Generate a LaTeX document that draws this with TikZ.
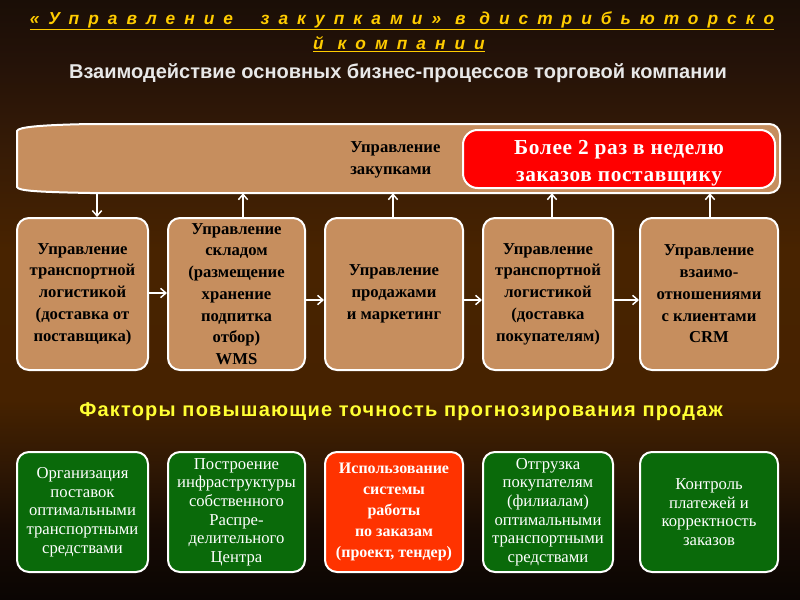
\documentclass[tikz,border=0pt]{standalone}
\usepackage{fontspec}
\setmainfont{Liberation Serif}
\newfontfamily\sansfont{Liberation Sans}
\newfontfamily\headfont[LetterSpace=6]{Liberation Sans}
\newfontfamily\titlefont[LetterSpace=52]{Liberation Sans}
\newfontfamily\serifls[LetterSpace=3]{Liberation Serif}
\usetikzlibrary{arrows.meta}
\definecolor{bg0}{HTML}{1A0E06}
\definecolor{bg1}{HTML}{241208}
\definecolor{bg2}{HTML}{361B06}
\definecolor{bg3}{HTML}{482300}
\definecolor{bg4}{HTML}{462200}
\definecolor{bg5}{HTML}{2E1704}
\definecolor{bg6}{HTML}{170B04}
\definecolor{bg7}{HTML}{0A0503}
\definecolor{tanfill}{HTML}{C68E5E}
\definecolor{greenfill}{HTML}{0A6A0A}
\definecolor{orangefill}{HTML}{FF3300}
\definecolor{titlegold}{HTML}{FFCC00}
\definecolor{headyellow}{HTML}{FFFF33}
\definecolor{subgrey}{HTML}{E8E8E8}
\pgfdeclareverticalshading{bgshade}{100bp}{color(0bp)=(bg7); color(25bp)=(bg7); color(30.8bp)=(bg6); color(35.8bp)=(bg5); color(41.7bp)=(bg4); color(54.2bp)=(bg3); color(62.5bp)=(bg2); color(70bp)=(bg1); color(75bp)=(bg0); color(100bp)=(bg0)}
\tikzset{
  procbox/.style={draw=white, line width=1.5pt, fill=tanfill, rounded corners=9pt,
    minimum height=114pt, inner sep=0pt, align=center, text=black,
    font=\bfseries\fontsize{12.5}{16.3}\selectfont},
  factbox/.style={draw=white, line width=1.5pt, fill=greenfill, rounded corners=9pt,
    minimum height=90pt, inner sep=0pt, align=center, text=white,
    font=\fontsize{12.5}{14}\selectfont},
  factred/.style={factbox, fill=orangefill, font=\bfseries\fontsize{12}{15.8}\selectfont},
  titletext/.style={text=titlegold, inner sep=0pt, font=\titlefont\bfseries\itshape\fontsize{13}{15}\selectfont},
  wline/.style={draw=white, line width=1.1pt, -{Straight Barb[length=4pt,width=7pt]}},
}
\begin{document}
\begin{tikzpicture}[x=0.75pt,y=-0.75pt]
\useasboundingbox (0,0) rectangle (800,600);
\shade[shading=bgshade] (0,0) rectangle (800,600);

% titles
\node[titletext] (t1) at (402,21)
  {\underline{«Управление\ \ закупками» в дистрибьюторско}};
\node[titletext] (t2) at (399,44)
  {\underline{й\ компании}};
\node[text=subgrey, font=\sansfont\bfseries\fontsize{15}{17}\selectfont] (sub) at (398,73)
  {Взаимодействие основных бизнес-процессов торговой компании};

% top purchasing band
\path[draw=white, line width=1.5pt, fill=tanfill]
  (90,124) [rounded corners=8pt] -- (780,124) -- (780,193) [sharp corners] -- (90,193)
  .. controls (40,192) and (18,191) .. (17,187) -- (17,131)
  .. controls (18,127) and (40,125) .. (90,124) -- cycle;
\node[minimum width=574.5pt, minimum height=51.75pt, inner sep=0pt] (top) at (398.5,158.5) {};
\node[anchor=west, align=left, inner sep=0pt, font=\bfseries\fontsize{12.5}{16.5}\selectfont] (purch) at (350,160)
  {Управление\\закупками};
\node[draw=white, line width=1.5pt, fill=red, rounded corners=11pt, minimum width=234pt, minimum height=43.5pt,
  inner sep=0pt, text=white, font=\serifls\bfseries\fontsize{16}{20.3}\selectfont] (freq) at (619,159)
  {\raisebox{-7pt}[0pt][0pt]{\begin{tabular}{@{}c@{}}Более 2 раз в неделю\\заказов поставщику\end{tabular}}};

% process boxes
\node[procbox, minimum width=98.25pt] (p1) at (82.5,294)
  {Управление\\транспортной\\логистикой\\(доставка от\\поставщика)};
\node[procbox, minimum width=102.75pt] (p2) at (236.5,294)
  {Управление\\складом\\(размещение\\хранение\\подпитка\\отбор)\\WMS};
\node[procbox, minimum width=103.5pt] (p3) at (394,294)
  {Управление\\продажами\\и маркетинг};
\node[procbox, minimum width=97.5pt] (p4) at (548,294)
  {Управление\\транспортной\\логистикой\\(доставка\\покупателям)};
\node[procbox, minimum width=103.5pt] (p5) at (709,294)
  {Управление\\взаимо-\\отношениями\\с клиентами\\CRM};

% vertical connectors
\draw[wline] ([xshift=10.9pt]p1.north |- top.south) -- ([xshift=10.9pt]p1.north);
\draw[wline] ([xshift=4.9pt]p2.north) -- ([xshift=4.9pt]p2.north |- top.south);
\draw[wline] ([xshift=-0.75pt]p3.north) -- ([xshift=-0.75pt]p3.north |- top.south);
\draw[wline] ([xshift=3pt]p4.north) -- ([xshift=3pt]p4.north |- top.south);
\draw[wline] ([xshift=0.75pt]p5.north) -- ([xshift=0.75pt]p5.north |- top.south);

% horizontal connectors
\draw[wline] ([yshift=0.75pt]p1.east) -- ([yshift=0.75pt]p1.east -| p2.west);
\draw[wline] ([yshift=-4.5pt]p2.east) -- ([yshift=-4.5pt]p2.east -| p3.west);
\draw[wline] ([yshift=-4.5pt]p3.east) -- ([yshift=-4.5pt]p3.east -| p4.west);
\draw[wline] ([yshift=-4.5pt]p4.east) -- ([yshift=-4.5pt]p4.east -| p5.west);

% factors heading
\node[text=headyellow, font=\headfont\bfseries\fontsize{15}{17}\selectfont] (head) at (401,412)
  {Факторы повышающие точность прогнозирования продаж};

% factor boxes
\node[factbox, minimum width=98.25pt] (f1) at (82.5,512)
  {Организация\\поставок\\оптимальными\\транспортными\\средствами};
\node[factbox, minimum width=102.75pt] (f2) at (236.5,512)
  {Построение\\инфраструктуры\\собственного\\Распре-\\делительного\\Центра};
\node[factred, minimum width=103.5pt] (f3) at (394,512)
  {Использование\\системы\\работы\\по заказам\\(проект, тендер)};
\node[factbox, minimum width=97.5pt] (f4) at (548,512)
  {Отгрузка\\покупателям\\(филиалам)\\оптимальными\\транспортными\\средствами};
\node[factbox, minimum width=103.5pt] (f5) at (709,512)
  {Контроль\\платежей и\\корректность\\заказов};
\end{tikzpicture}
\end{document}
